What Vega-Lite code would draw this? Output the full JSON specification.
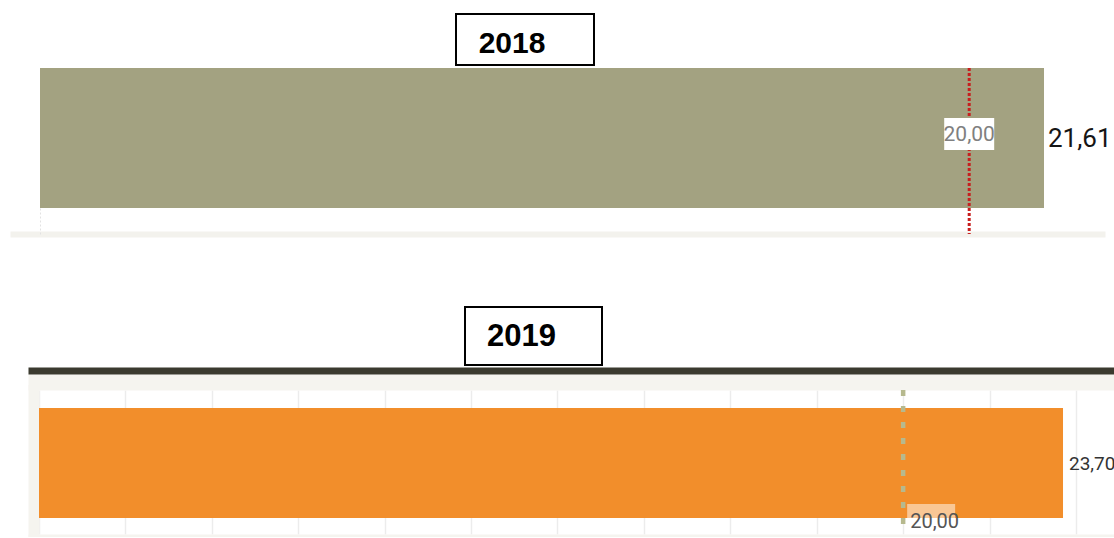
{
  "$schema": "https://vega.github.io/schema/vega-lite/v6.json",
  "background": "white",
  "padding": {"left": 0, "top": 13, "right": 0, "bottom": 0},
  "config": {
    "view": {"stroke": null},
    "locale": {"number": {"decimal": ",", "thousands": ".", "grouping": [3], "currency": ["", " €"]}},
    "font": "Liberation Sans",
    "axis": {"ticks": false, "labels": false, "grid": false}
  },
  "datasets": {
    "d2018": [{"year": "2018", "value": 21.61, "target": 20}],
    "d2019": [{"year": "2019", "value": 23.70, "target": 20}]
  },
  "spacing": 70,
  "vconcat": [
    {
      "spacing": 0,
      "vconcat": [
        {
          "spacing": 0,
          "hconcat": [
            {"width": 455, "height": 51, "data": {"values": [{}]}, "mark": {"type": "text", "text": ""}},
            {
              "width": 138, "height": 51,
              "data": {"name": "d2018"},
              "view": {"stroke": "black", "strokeWidth": 2, "fill": "white"},
              "mark": {"type": "text", "font": "Liberation Sans", "fontWeight": "bold", "fontSize": 30, "dx": -13, "dy": 4, "color": "black"},
              "encoding": {"text": {"field": "year"}}
            }
          ]
        },
        {
          "spacing": 0,
          "hconcat": [
            {"width": 10, "height": 166, "data": {"values": [{}]}, "mark": {"type": "text", "text": ""}},
            {
              "width": 1095, "height": 166,
              "data": {"name": "d2018"},
              "layer": [
                {
                  "mark": {"type": "bar", "color": "#a3a281"},
                  "encoding": {
                    "x": {"field": "value", "type": "quantitative", "title": null,
                          "scale": {"domain": [-0.6457, 22.923], "nice": false},
                          "axis": {"domainColor": "#f3f2ed", "domainWidth": 6, "grid": false}},
                    "y": {"field": "year", "type": "nominal", "title": null,
                          "scale": {"paddingInner": 0, "paddingOuter": 0.0929, "align": 0},
                          "axis": {"domainColor": "#e2e2e2", "domainDash": [2, 2], "offset": -30}}
                  }
                },
                {
                  "mark": {"type": "rule", "color": "#c81e1e", "strokeWidth": 3, "strokeDash": [3, 2]},
                  "encoding": {"x": {"field": "target", "type": "quantitative"}}
                },
                {
                  "mark": {"type": "point", "shape": "M-1.5625,-1L1.5625,-1L1.5625,1L-1.5625,1Z", "size": 1024, "filled": true, "color": "white", "opacity": 1, "yOffset": -4},
                  "encoding": {
                    "x": {"field": "target", "type": "quantitative"},
                    "y": {"field": "year", "type": "nominal"}
                  }
                },
                {
                  "mark": {"type": "text", "font": "Roboto", "fontSize": 21, "color": "#808080", "dy": -3},
                  "encoding": {
                    "x": {"field": "target", "type": "quantitative"},
                    "y": {"field": "year", "type": "nominal"},
                    "text": {"field": "target", "type": "quantitative", "format": ".2f"}
                  }
                },
                {
                  "mark": {"type": "text", "font": "Roboto", "fontSize": 26, "color": "#151515", "align": "left", "dx": 4, "dy": 1},
                  "encoding": {
                    "x": {"field": "value", "type": "quantitative"},
                    "y": {"field": "year", "type": "nominal"},
                    "text": {"field": "value", "type": "quantitative", "format": ".2f"}
                  }
                }
              ]
            }
          ]
        }
      ]
    },
    {
      "spacing": 4,
      "vconcat": [
        {
          "spacing": 0,
          "hconcat": [
            {"width": 464, "height": 58, "data": {"values": [{}]}, "mark": {"type": "text", "text": ""}},
            {
              "width": 137, "height": 58,
              "data": {"name": "d2019"},
              "view": {"stroke": "black", "strokeWidth": 2, "fill": "white"},
              "mark": {"type": "text", "font": "Liberation Sans", "fontWeight": "bold", "fontSize": 31, "dx": -12, "dy": 1, "color": "black"},
              "encoding": {"text": {"field": "year"}}
            }
          ]
        },
        {
          "spacing": 0,
          "hconcat": [
            {"width": 28, "height": 144, "data": {"values": [{}]}, "mark": {"type": "text", "text": ""}},
            {
              "width": 1086, "height": 144,
              "data": {"name": "d2019"},
              "resolve": {"axis": {"x": "independent"}},
              "layer": [
                {
                  "mark": {"type": "bar", "color": "#f28e2b"},
                  "encoding": {
                    "x": {"field": "value", "type": "quantitative", "title": null,
                          "scale": {"domain": [-0.2546, 24.88], "nice": false},
                          "axis": {"orient": "top", "offset": 8, "domainColor": "#f5f4ef", "domainWidth": 16,
                                   "grid": true, "gridColor": "#ececec", "gridWidth": 1.5,
                                   "values": [0, 2, 4, 6, 8, 10, 12, 14, 16, 18, 20, 22, 24]}},
                    "y": {"field": "year", "type": "nominal", "title": null,
                          "scale": {"paddingInner": 0, "paddingOuter": 0.1545, "align": 0.53},
                          "axis": {"orient": "left", "offset": -5.5, "domainColor": "#f5f4ef", "domainWidth": 11, "domainCap": "square"}}
                  }
                },
                {
                  "mark": {"type": "rule", "color": "#b6b98e", "strokeWidth": 4.5, "strokeDash": [6, 10]},
                  "encoding": {
                    "x": {"field": "target", "type": "quantitative", "title": null,
                          "axis": {"orient": "top", "offset": 19.5, "domainColor": "#3b3a2f", "domainWidth": 7, "grid": false}}
                  }
                },
                {
                  "mark": {"type": "point", "shape": "M-1.714,-1L1.714,-1L1.714,1L-1.714,1Z", "size": 784, "filled": true, "color": "white", "opacity": 0.5, "xOffset": 28, "yOffset": 55},
                  "encoding": {
                    "x": {"field": "target", "type": "quantitative", "title": null,
                          "axis": {"orient": "bottom", "offset": 3, "domainColor": "#f5f4ef", "domainWidth": 6, "grid": false}},
                    "y": {"field": "year", "type": "nominal"}
                  }
                },
                {
                  "mark": {"type": "text", "font": "Roboto", "fontSize": 20, "color": "#555555", "align": "left", "dx": 7, "dy": 59},
                  "encoding": {
                    "x": {"field": "target", "type": "quantitative", "axis": null},
                    "y": {"field": "year", "type": "nominal"},
                    "text": {"field": "target", "type": "quantitative", "format": ".2f"}
                  }
                },
                {
                  "mark": {"type": "text", "font": "Roboto", "fontSize": 19, "color": "#333333", "align": "left", "dx": 6, "dy": 1},
                  "encoding": {
                    "x": {"field": "value", "type": "quantitative", "axis": null},
                    "y": {"field": "year", "type": "nominal"},
                    "text": {"field": "value", "type": "quantitative", "format": ".2f"}
                  }
                }
              ]
            }
          ]
        }
      ]
    }
  ]
}
